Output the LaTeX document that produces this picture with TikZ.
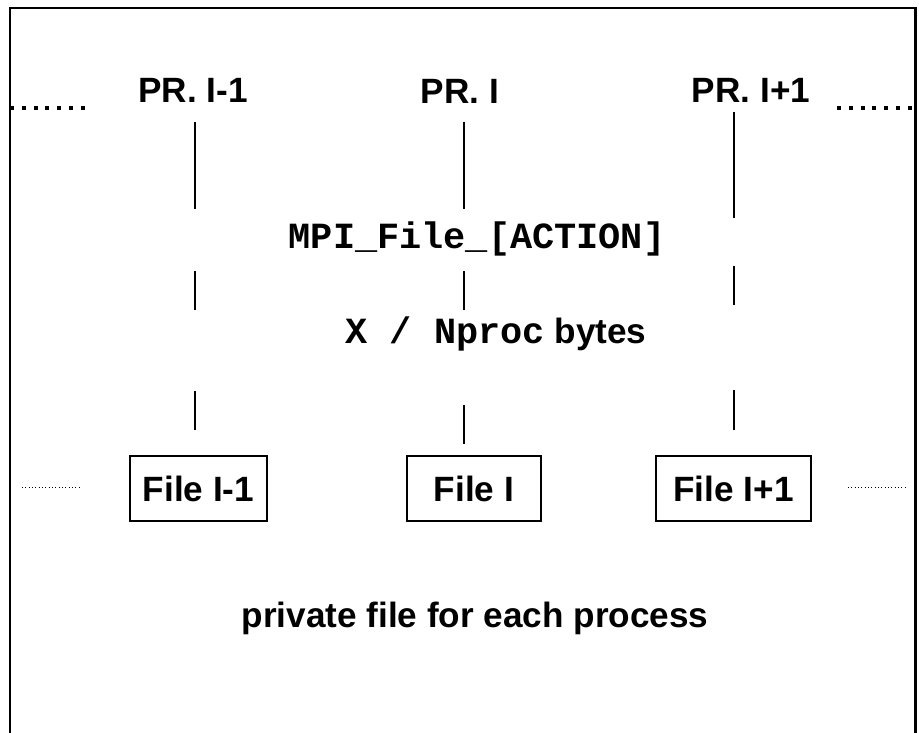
\documentclass[tikz,border=0pt]{standalone}
\usepackage{fontspec}
\setmainfont{Liberation Sans}
\setmonofont{Liberation Mono}
\tikzset{
  prlabel/.style={font=\fontsize{20}{24}\selectfont\bfseries, inner sep=0pt, anchor=base},
  calltext/.style={font=\fontsize{21}{25}\selectfont\ttfamily\bfseries, inner sep=0pt, anchor=base},
  filebox/.style={draw, line width=1.3pt, font=\fontsize{20}{24}\selectfont\bfseries,
    inner sep=0pt, minimum height=1.3cm},
  vline/.style={line width=0.85pt},
  bigdots/.style={line width=2.3pt, dash pattern=on 2.3pt off 4.4pt},
  smalldots/.style={line width=0.55pt, dash pattern=on 0.55pt off 1.35pt}
}
\begin{document}
\begin{tikzpicture}[x=0.02cm, y=-0.02cm]
  \useasboundingbox (0,0) rectangle (919,733);
  % frame, open at the bottom
  \draw[line width=1.7pt] (10,733) -- (10,8) -- (915,8) -- (915,733);

  % processes
  \node[prlabel] (pr1) at (193,103) {PR. I-1};
  \node[prlabel] (pr2) at (460,104) {PR. I};
  \node[prlabel] (pr3) at (751,103) {PR. I+1};
  \draw[bigdots] (10,108) -- (86,108);
  \draw[bigdots] (837,108) -- (913,108);

  % call and size
  \node[calltext] (call) at (477,248) {MPI\_File\_[ACTION]};
  \node[prlabel] (size) at (496,343) {{\fontsize{21}{25}\selectfont\ttfamily X / Nproc} bytes};

  % files
  \node[filebox, minimum width=2.74cm] (file1) at (198.5,488.5) {File I-1};
  \node[filebox, minimum width=2.68cm] (file2) at (474,488.5) {File I};
  \node[filebox, minimum width=3.1cm] (file3) at (733.5,488.5) {File I+1};
  \draw[smalldots] (22,487) -- (80,487);
  \draw[smalldots] (848,487) -- (906,487);

  \begin{scope}[vline]
    \foreach \x/\a/\b in {195/122/209, 195/271/310, 195/391/430,
                          464/122/209, 464/271/310, 464/405/444,
                          734/112/218, 734/266/305, 734/390/430}
      \draw (\x,\a) -- (\x,\b);
  \end{scope}

  \node[prlabel] (note) at (475,627) {private file for each process};
\end{tikzpicture}
\end{document}
